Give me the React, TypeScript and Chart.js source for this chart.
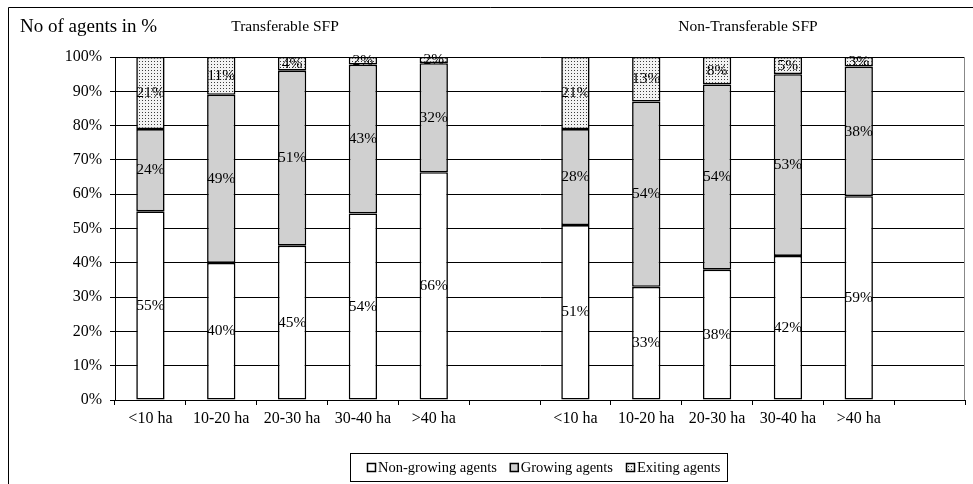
import { useEffect, useRef } from 'react';
import { Chart, registerables } from 'chart.js';

Chart.register(...registerables);

const FONT = '"Liberation Serif", "Times New Roman", serif';

// Size classes (x-axis categories), repeated for the two panels
const CATEGORIES = ['<10 ha', '10-20 ha', '20-30 ha', '30-40 ha', '>40 ha'];
const PANEL_TITLES = ['Transferable SFP', 'Non-Transferable SFP'];
const Y_TITLE = 'No of agents in %';
const SERIES_NAMES = ['Non-growing agents', 'Growing agents', 'Exiting agents'];

// Transferable SFP (% of agents)
const T_NON_GROWING = [55, 40, 45, 54.4, 66.4];
const T_GROWING = [24, 49, 51, 43.4, 31.8];
const T_EXITING = [21, 11, 4, 2.2, 1.8];

// Non-Transferable SFP (% of agents)
const N_NON_GROWING = [51, 33, 38, 42, 59.4];
const N_GROWING = [28, 54, 54, 53, 37.8];
const N_EXITING = [21, 13, 8, 5, 2.8];

const LABELS = [...CATEGORIES, '', ...CATEGORIES, ''];
const join = (a: number[], b: number[]) => [...a, null, ...b, null];

export default function App() {
  const ref = useRef<HTMLCanvasElement>(null);

  useEffect(() => {
    const canvas = ref.current!;
    const pc = document.createElement('canvas');
    pc.width = 3;
    pc.height = 3;
    const pctx = pc.getContext('2d')!;
    pctx.fillStyle = '#f2f2f2';
    pctx.fillRect(0, 0, 3, 3);
    pctx.fillStyle = '#3c3c3c';
    pctx.fillRect(1, 1, 1, 1);
    const pattern = canvas.getContext('2d')!.createPattern(pc, 'repeat')!;

    const fills: any[] = ['#ffffff', '#d0d0d0', pattern];

    const decorations = {
      id: 'decorations',
      afterDraw(chart: any) {
        const ctx = chart.ctx as CanvasRenderingContext2D;
        const area = chart.chartArea;
        ctx.save();
        // outer chart border
        ctx.strokeStyle = '#000';
        ctx.lineWidth = 1;
        ctx.beginPath();
        ctx.moveTo(8.5, 484);
        ctx.lineTo(8.5, 7.5);
        ctx.lineTo(973, 7.5);
        ctx.stroke();
        // right plot border
        ctx.strokeStyle = '#888';
        ctx.beginPath();
        ctx.moveTo(area.right - 0.5, area.top);
        ctx.lineTo(area.right - 0.5, area.bottom);
        ctx.stroke();
        // titles
        ctx.fillStyle = '#000';
        ctx.textBaseline = 'middle';
        ctx.textAlign = 'left';
        ctx.font = `19px ${FONT}`;
        ctx.fillText(Y_TITLE, 20, 27);
        ctx.font = `15.5px ${FONT}`;
        ctx.textAlign = 'center';
        ctx.fillText(PANEL_TITLES[0], 285, 27);
        ctx.fillText(PANEL_TITLES[1], 748, 27);
        // legend
        ctx.strokeStyle = '#000';
        ctx.strokeRect(350.5, 453.5, 377, 28);
        ctx.font = `14.5px ${FONT}`;
        ctx.textAlign = 'left';
        let x = 367;
        chart.data.datasets.forEach((ds: any) => {
          ctx.fillStyle = ds.backgroundColor;
          ctx.fillRect(x, 463, 9, 9);
          ctx.strokeStyle = '#000';
          ctx.lineWidth = 1.5;
          ctx.strokeRect(x + 0.5, 463.5, 8, 8);
          ctx.fillStyle = '#000';
          ctx.fillText(ds.label, x + 11, 468);
          x += 11 + ctx.measureText(ds.label).width + 13;
        });
        ctx.restore();
      },
    };

    const valueLabels = {
      id: 'valueLabels',
      afterDatasetsDraw(chart: any) {
        const ctx = chart.ctx as CanvasRenderingContext2D;
        ctx.save();
        ctx.font = `15.5px ${FONT}`;
        ctx.fillStyle = '#000';
        ctx.textAlign = 'center';
        ctx.textBaseline = 'middle';
        chart.data.datasets.forEach((ds: any, i: number) => {
          const meta = chart.getDatasetMeta(i);
          meta.data.forEach((el: any, j: number) => {
            const v = ds.data[j];
            if (v == null) return;
            ctx.fillText(Math.round(v) + '%', el.x, (el.y + el.base) / 2);
          });
        });
        ctx.restore();
      },
    };

    const chart = new Chart(canvas, {
      type: 'bar',
      data: {
        labels: LABELS,
        datasets: [
          { label: SERIES_NAMES[0], data: join(T_NON_GROWING, N_NON_GROWING) },
          { label: SERIES_NAMES[1], data: join(T_GROWING, N_GROWING) },
          { label: SERIES_NAMES[2], data: join(T_EXITING, N_EXITING) },
        ].map((d, i) => ({
          ...d,
          backgroundColor: fills[i],
          borderColor: '#000',
          borderWidth: 1.6,
          borderSkipped: false,
          barPercentage: 0.4,
          categoryPercentage: 1,
        })) as any,
      },
      options: {
        responsive: false,
        animation: false,
        events: [],
        layout: { padding: { left: 8, right: 8, top: 57, bottom: 54 } },
        plugins: { legend: { display: false }, tooltip: { enabled: false }, title: { display: false } },
        scales: {
          x: {
            stacked: true,
            offset: true,
            afterFit: (s: any) => { s.height = 30; },
            grid: { offset: true, drawOnChartArea: false, drawTicks: true, tickLength: 5, color: '#000' },
            border: { color: '#000', width: 1 },
            ticks: { autoSkip: false, maxRotation: 0, padding: 4, color: '#000', font: { family: FONT, size: 16 } },
          },
          y: {
            stacked: true,
            min: 0,
            max: 100,
            afterFit: (s: any) => { s.width = 107; },
            grid: { color: '#000', tickLength: 5, drawTicks: true },
            border: { color: '#000', width: 1 },
            ticks: { stepSize: 10, padding: 8, color: '#000', font: { family: FONT, size: 16 }, callback: (v: any) => v + '%' },
          },
        },
      },
      plugins: [valueLabels, decorations],
    });
    return () => chart.destroy();
  }, []);

  return (
    <div style={{ position: 'fixed', left: 0, top: 0, width: 973, height: 484, background: '#fff' }}>
      <canvas ref={ref} width={973} height={484} style={{ width: 973, height: 484, display: 'block' }} />
    </div>
  );
}
